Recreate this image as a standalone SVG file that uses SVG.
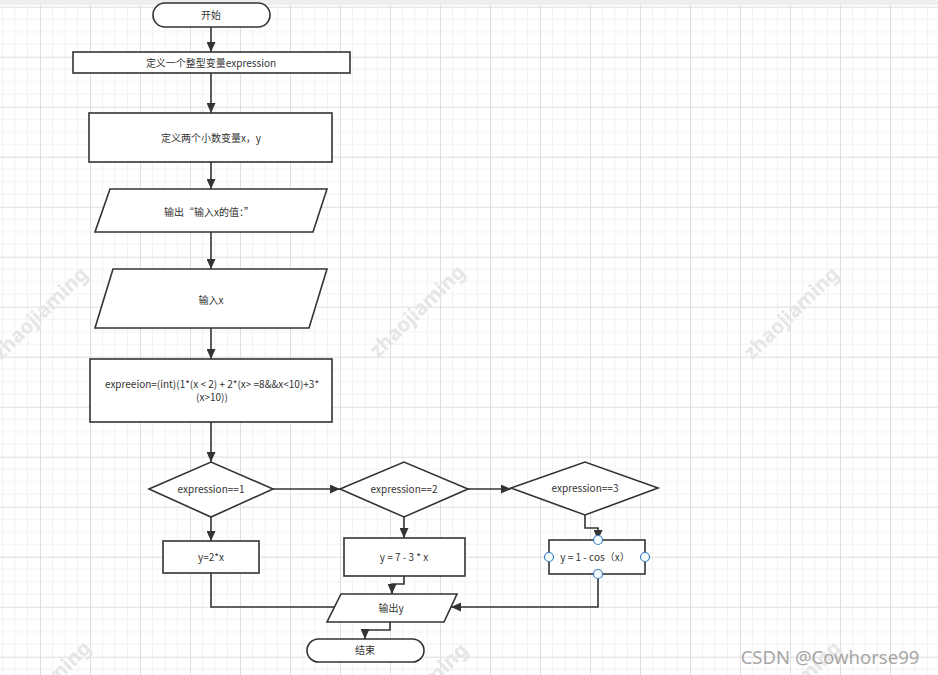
<svg xmlns="http://www.w3.org/2000/svg" width="938" height="675" viewBox="0 0 938 675">
<defs>
<pattern id="grid" x="40" y="6.7" width="50" height="50" patternUnits="userSpaceOnUse">
<path d="M12.5,0V50M25,0V50M37.5,0V50M0,12.5H50M0,25H50M0,37.5H50" stroke="#f2f2f2" stroke-width="1" fill="none"/>
<path d="M0.5,0V50M0,0.5H50" stroke="#dedede" stroke-width="1" fill="none"/>
</pattern>
<marker id="arr" markerUnits="userSpaceOnUse" markerWidth="10" markerHeight="9" refX="10" refY="4.5" orient="auto">
<path d="M0,0L10,4.5L0,9z" fill="#333"/>
</marker>
</defs>
<style>
.n{fill:#fff;stroke:#333;stroke-width:1.6}
.t{font-family:"Noto Sans CJK SC","Noto Sans",sans-serif;font-size:10px;fill:#333;text-anchor:middle}
.c{fill:none;stroke:#333;stroke-width:1.6}
.ca{fill:none;stroke:#333;stroke-width:1.6;marker-end:url(#arr)}
.wm{font-family:"Noto Sans","DejaVu Sans",sans-serif;font-size:20px;font-weight:bold;fill:#e6e6e6;text-anchor:middle}
.h{fill:#f5faff;stroke:#3b80c4;stroke-width:1.2}
</style>
<rect width="938" height="675" fill="#fff"/>
<rect width="938" height="675" fill="url(#grid)"/>
<rect width="938" height="5" fill="#eeeeee"/>
<g id="watermarks">
<text class="wm" transform="translate(45,318) rotate(-44)">zhaojiaming</text>
<text class="wm" transform="translate(422,316) rotate(-44)">zhaojiaming</text>
<text class="wm" transform="translate(796,318) rotate(-44)">zhaojiaming</text>
<text class="wm" transform="translate(48,692) rotate(-44)">zhaojiaming</text>
<text class="wm" transform="translate(425,694) rotate(-44)">zhaojiaming</text>
<text class="wm" transform="translate(798,692) rotate(-44)">zhaojiaming</text>
</g>
<g id="connectors">
<path class="ca" d="M211,27V52"/>
<path class="ca" d="M211,73V113"/>
<path class="ca" d="M211,162V189"/>
<path class="ca" d="M211,232V269"/>
<path class="ca" d="M211,328V359"/>
<path class="ca" d="M211,422V462"/>
<path class="ca" d="M273,489H340"/>
<path class="ca" d="M468,489H511"/>
<path class="ca" d="M211,517V541"/>
<path class="ca" d="M404,517V538"/>
<path class="ca" d="M585,515V528H598V540"/>
<path class="c" d="M211,573V607H334"/>
<path class="ca" d="M404,576V584H392V594"/>
<path class="ca" d="M598,574V607H451"/>
<path class="ca" d="M390,622V630H365V639"/>
</g>
<g id="start"><rect class="n" x="153" y="3" width="117" height="24" rx="12"/><text class="t" x="211" y="18.5">开始</text></g>
<g id="defExpr"><rect class="n" x="73" y="52" width="277" height="21"/><text class="t" x="211" y="66.5">定义一个整型变量expression</text></g>
<g id="defXY"><rect class="n" x="89" y="113" width="243" height="49"/><text class="t" x="211" y="141.5">定义两个小数变量x，y</text></g>
<g id="outPrompt"><polygon class="n" points="110,189 327,189 313,232 95,232"/><text class="t" x="209" y="215.5">输出“输入x的值：”</text></g>
<g id="inputX"><polygon class="n" points="113,269 327,269 309,328 95,328"/><text class="t" x="211" y="303.5">输入x</text></g>
<g id="calc"><rect class="n" x="90" y="359" width="242" height="63"/><text class="t" x="212" y="387.5">expreeion=(int)(1*(x &lt; 2) + 2*(x&gt; =8&amp;&amp;x&lt;10)+3*</text><text class="t" x="212" y="401">(x&gt;10))</text></g>
<g id="d1"><polygon class="n" points="149,489 211,462 273,489 211,517"/><text class="t" x="211" y="492.5">expression==1</text></g>
<g id="d2"><polygon class="n" points="340,489 404,462 468,489 404,517"/><text class="t" x="404" y="492.5">expression==2</text></g>
<g id="d3"><polygon class="n" points="511,488 585,462 658,488 585,515"/><text class="t" x="585" y="491.5">expression==3</text></g>
<g id="y1"><rect class="n" x="163" y="541" width="96" height="32"/><text class="t" x="211" y="560.5">y=2*x</text></g>
<g id="y2"><rect class="n" x="344" y="538" width="121" height="38"/><text class="t" x="404" y="560.5">y = 7 - 3 * x</text></g>
<g id="y3"><rect class="n" x="549" y="540" width="96" height="34"/><text class="t" x="595" y="560.5">y = 1 - cos（x）</text>
<circle class="h" cx="598" cy="540" r="4.5"/><circle class="h" cx="598" cy="574" r="4.5"/><circle class="h" cx="549" cy="557" r="4.5"/><circle class="h" cx="645" cy="557" r="4.5"/></g>
<g id="outY"><polygon class="n" points="341,594 457,594 444,622 327,622"/><text class="t" x="391" y="611.5">输出y</text></g>
<g id="end"><rect class="n" x="307" y="639" width="117" height="23" rx="11.5"/><text class="t" x="365" y="654">结束</text></g>
<text x="830" y="664" font-family="'Noto Sans','Open Sans',sans-serif" font-size="18.5" fill="#a6a6a6" text-anchor="middle">CSDN @Cowhorse99</text>
</svg>
